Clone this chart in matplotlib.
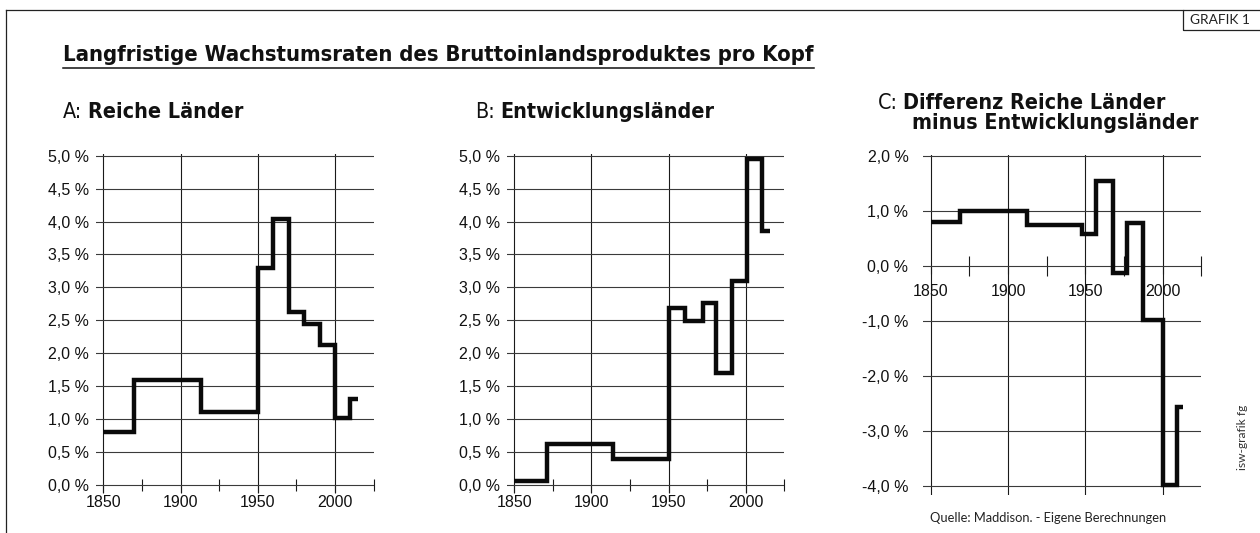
import matplotlib
matplotlib.use("Agg")
import os
import matplotlib.pyplot as plt
from matplotlib import font_manager as fm
from matplotlib.ticker import FixedLocator, FuncFormatter
from matplotlib.lines import Line2D
from matplotlib.patches import Rectangle

# ---------------- data ----------------
years_rich = [1850, 1870, 1913, 1950, 1960, 1970, 1980, 1990, 2000, 2010, 2015]
growth_rich = [0.81, 1.59, 1.11, 3.30, 4.04, 2.62, 2.45, 2.12, 1.01, 1.30]

years_dev = [1850, 1871, 1914, 1950.5, 1960.7, 1972.5, 1980.8, 1990.9, 2000.6, 2010.4, 2015.5]
growth_dev = [0.06, 0.62, 0.39, 2.68, 2.49, 2.76, 1.70, 3.09, 4.95, 3.86]

years_diff = [1850, 1869, 1912, 1948, 1957, 1968, 1977, 1987, 2000, 2009, 2013]
growth_diff = [0.80, 0.99, 0.75, 0.58, 1.54, -0.13, 0.78, -0.99, -3.98, -2.57]

x_major = [1850, 1900, 1950, 2000]
x_minor = [1875, 1925, 1975, 2025]
y_ticks_ab = [0.0, 0.5, 1.0, 1.5, 2.0, 2.5, 3.0, 3.5, 4.0, 4.5, 5.0]
y_ticks_c = [-4.0, -3.0, -2.0, -1.0, 0.0, 1.0, 2.0]

main_title = "Langfristige Wachstumsraten des Bruttoinlandsproduktes pro Kopf"
sub_a = ("A:", "Reiche Länder")
sub_b = ("B:", "Entwicklungsländer")
sub_c = ("C:", "Differenz Reiche Länder")
sub_c2 = "minus Entwicklungsländer"
tag = "GRAFIK 1"
source = "Quelle: Maddison. - Eigene Berechnungen"
credit = "isw-grafik fg"

# ---------------- fonts ----------------
def has_font(name):
    try:
        fm.findfont(fm.FontProperties(family=name), fallback_to_default=False)
        return True
    except Exception:
        return False

def find_file(family, weight="normal", stretch="normal", must=None):
    try:
        f = fm.findfont(fm.FontProperties(family=family, weight=weight, stretch=stretch),
                        fallback_to_default=False)
    except Exception:
        return None
    if must and must.lower() not in os.path.basename(f).lower():
        return None
    return f

def narrow_props(weight):
    for fam, stretch, must in [("Liberation Sans Narrow", "normal", "narrow"),
                               ("Liberation Sans Narrow", "condensed", "narrow"),
                               ("DejaVu Sans", "condensed", "condensed"),
                               ("DejaVu Sans Condensed", "normal", "condensed")]:
        f = find_file(fam, weight, stretch, must)
        if f:
            if weight == "bold" and "bold" not in os.path.basename(f).lower():
                continue
            return fm.FontProperties(fname=f)
    return fm.FontProperties(family="Liberation Sans", weight=weight)

NB = narrow_props("bold")
NR = narrow_props("normal")
SANS = "Liberation Sans"
GEO = "Lato" if has_font("Lato") else "DejaVu Sans"

plt.rcParams["font.family"] = [SANS, "DejaVu Sans"]

W, H = 1260, 533
fig = plt.figure(figsize=(12.6, 5.33), dpi=100)
fig.patch.set_facecolor("white")
renderer = fig.canvas.get_renderer()

def fx(px):
    return px / W

def fy(py):
    return 1 - py / H

def add_axes_px(left, right, top, bottom):
    return fig.add_axes([fx(left), fy(bottom), (right - left) / W, (bottom - top) / H])

def pct(v, pos):
    return f"{v:.1f}".replace(".", ",") + " %"

GRIDV = "#1a1a1a"
GRIDH = "#3a3a3a"

def style(ax, ylo, yhi, yticks, ypad, xpad, minor_len):
    ax.set_xlim(1845, 2025)
    ax.set_ylim(ylo, yhi)
    for s in ax.spines.values():
        s.set_visible(False)
    ax.spines["bottom"].set_position(("data", 0))
    ax.xaxis.set_major_locator(FixedLocator(x_major))
    ax.xaxis.set_minor_locator(FixedLocator(x_minor))
    ax.xaxis.set_major_formatter(FuncFormatter(lambda v, p: f"{int(round(v))}"))
    ax.yaxis.set_major_locator(FixedLocator(yticks))
    ax.yaxis.set_major_formatter(FuncFormatter(pct))
    ax.tick_params(axis="x", which="major", direction="out", length=5.8, width=0.8,
                   color=GRIDV, pad=xpad, labelsize=11.5, labelcolor="#111111")
    ax.tick_params(axis="x", which="minor", direction="inout", length=minor_len,
                   width=0.8, color=GRIDV)
    ax.tick_params(axis="y", length=0, pad=ypad, labelsize=11.5, labelcolor="#111111")
    ax.grid(axis="x", which="major", color=GRIDV, lw=0.8)
    ax.grid(axis="y", which="major", color=GRIDH, lw=0.8)
    ax.set_axisbelow(True)
    ax.patch.set_visible(False)

axA = add_axes_px(95.6, 373.6, 154.4, 493.2)
axB = add_axes_px(506.6, 784.3, 154.4, 493.2)
axC = add_axes_px(923.0, 1201.3, 154.6, 494.8)

style(axA, -0.125, 5.02, y_ticks_ab, 5, 1.5, 8.6)
style(axB, -0.125, 5.02, y_ticks_ab, 5, 1.5, 8.6)
style(axC, -4.16, 2.02, y_ticks_c, 10.5, 7.5, 14.4)

for ax, yrs, vals in [(axA, years_rich, growth_rich),
                      (axB, years_dev, growth_dev),
                      (axC, years_diff, growth_diff)]:
    st = ax.stairs(vals, yrs, baseline=None, color="#0a0a0a", lw=3.2, zorder=3)
    st.set_joinstyle("miter")
    st.set_capstyle("butt")

# ---------------- texts ----------------
def make_fp(fp, size):
    p = fp.copy()
    p.set_size(size)
    return p

def fit_fp(txt, target_px, fp, base=10.0, rotation=0):
    t = fig.text(0, 0, txt, fontproperties=make_fp(fp, base), rotation=rotation)
    bb = t.get_window_extent(renderer)
    t.remove()
    ext = bb.height if rotation else bb.width
    return base * target_px / ext

def width_px(txt, fp, size):
    t = fig.text(0, 0, txt, fontproperties=make_fp(fp, size))
    w = t.get_window_extent(renderer).width
    t.remove()
    return w

# main title
ts = fit_fp(main_title, 750, NB)
tt = fig.text(fx(63), fy(61), main_title, fontproperties=make_fp(NB, ts),
              va="baseline", ha="left", color="#111111")
bb = tt.get_window_extent(renderer)
fig.add_artist(Line2D([bb.x0 / W, bb.x1 / W], [fy(67.5), fy(67.5)],
                      transform=fig.transFigure, color="#111111", lw=1.1))

# subtitles
ss = fit_fp("B: Entwicklungsländer", 241, NB)

def two_part(x, y, first, second):
    fig.text(fx(x), fy(y), first, fontproperties=make_fp(NR, ss), va="baseline",
             ha="left", color="#111111")
    w1 = width_px(first, NR, ss)
    gap = ss * 0.25 * 100 / 72
    fig.text(fx(x + w1 + gap), fy(y), second, fontproperties=make_fp(NB, ss),
             va="baseline", ha="left", color="#111111")

two_part(63, 118, *sub_a)
two_part(475, 118, *sub_b)
two_part(878, 109, *sub_c)
fig.text(fx(912), fy(129), sub_c2, fontproperties=make_fp(NB, ss),
         va="baseline", ha="left", color="#111111")

# frame and tag
fig.add_artist(Line2D([fx(6), fx(6)], [fy(10), fy(533)], transform=fig.transFigure,
                      color="#222222", lw=0.9))
fig.add_artist(Line2D([fx(6), fx(1183)], [fy(10), fy(10)], transform=fig.transFigure,
                      color="#222222", lw=0.9))
fig.add_artist(Rectangle((fx(1183), fy(30)), (1262 - 1183) / W, 20 / H,
                         transform=fig.transFigure, fill=False, edgecolor="#222222", lw=0.9))
GEOFP = fm.FontProperties(family=GEO)
gs = fit_fp(tag, 60, GEOFP)
fig.text(fx(1190), fy(20), tag, fontproperties=make_fp(GEOFP, gs), va="center",
         ha="left", color="#222222")

# source + credit
qs = fit_fp(source, 237, GEOFP)
fig.text(fx(930), fy(518), source, fontproperties=make_fp(GEOFP, qs), va="center",
         ha="left", color="#222222")
cs = fit_fp(credit, 65, GEOFP, rotation=90)
fig.text(fx(1242), fy(437), credit, fontproperties=make_fp(GEOFP, cs), va="center",
         ha="center", rotation=90, color="#333333")

fig.savefig("out.png", dpi=100)
